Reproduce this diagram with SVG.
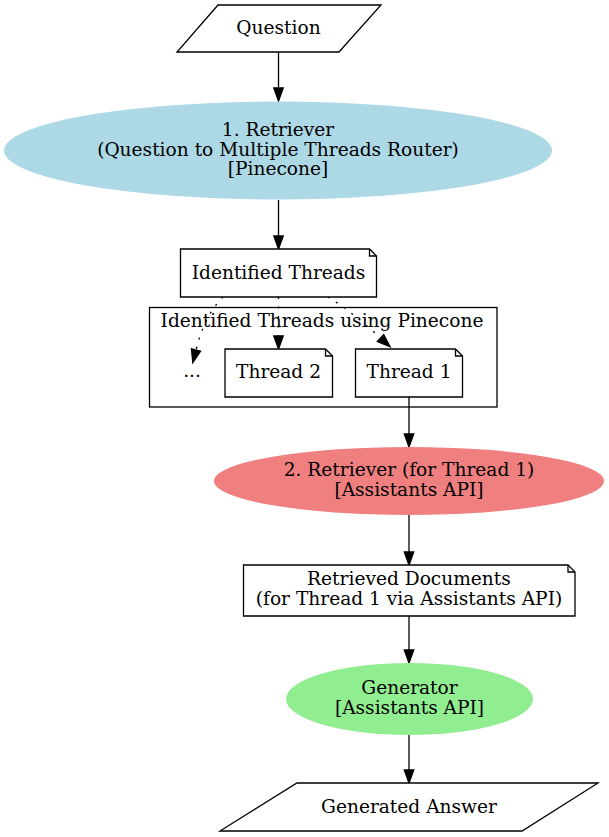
<svg xmlns="http://www.w3.org/2000/svg" width="609" height="837" viewBox="0 0 609 837">
<defs>
<style>
text{font-family:"DejaVu Serif","Liberation Serif",serif;font-size:18.6px;fill:#000;text-anchor:middle}
.shape{stroke:#000;stroke-width:1.3;fill:#fff}
.edge{stroke:#000;stroke-width:1.3;fill:none}
.dot{stroke-dasharray:2,7.5}
</style>
<marker id="arr" markerUnits="userSpaceOnUse" markerWidth="16" markerHeight="12" refX="0" refY="0" viewBox="0 -6 16 12" orient="auto" overflow="visible">
<path d="M0,-4.7 L13,0 L0,4.7 Z" fill="#000" stroke="#000" stroke-width="1.3"/>
</marker>
</defs>
<rect width="609" height="837" fill="#fff"/>
<g id="cluster">
<rect x="149.5" y="307.5" width="347.5" height="99.5" fill="none" stroke="#000" stroke-width="1.3"/>
<text x="322" y="327">Identified Threads using Pinecone</text>
</g>
<g id="edges">
<path class="edge" d="M278.5,52 L278.5,88" marker-end="url(#arr)"/>
<path class="edge" d="M278.5,200 L278.5,236" marker-end="url(#arr)"/>
<path class="edge dot" d="M223,297 C211,309 202,326 196,350" marker-end="url(#arr)"/>
<path class="edge dot" d="M278.5,297 L278.5,336" marker-end="url(#arr)"/>
<path class="edge dot" d="M328,297 C343,306 361,320 380.5,338" marker-end="url(#arr)"/>
<path class="edge" d="M409,397 L409,434" marker-end="url(#arr)"/>
<path class="edge" d="M409,515 L409,552" marker-end="url(#arr)"/>
<path class="edge" d="M409,616 L409,650" marker-end="url(#arr)"/>
<path class="edge" d="M409,735 L409,770" marker-end="url(#arr)"/>
</g>
<g id="question">
<polygon class="shape" points="218,5 381,5 339,52 177,52"/>
<text x="278.5" y="34">Question</text>
</g>
<g id="retriever1">
<ellipse cx="278" cy="150.5" rx="274" ry="49" fill="#add8e6"/>
<text x="278" y="136">1. Retriever</text>
<text x="278" y="155.5">(Question to Multiple Threads Router)</text>
<text x="278" y="175">[Pinecone]</text>
</g>
<g id="identified">
<path class="shape" d="M180.5,249 L369.5,249 L376.5,256 L376.5,297 L180.5,297 Z"/>
<path class="edge" d="M369.5,249 L369.5,256 L376.5,256"/>
<text x="278.5" y="278.5">Identified Threads</text>
</g>
<g id="ellipsis">
<text x="192" y="377">...</text>
</g>
<g id="thread2">
<path class="shape" d="M225,349 L325.5,349 L332.5,356 L332.5,397 L225,397 Z"/>
<path class="edge" d="M325.5,349 L325.5,356 L332.5,356"/>
<text x="278.5" y="377.5">Thread 2</text>
</g>
<g id="thread1">
<path class="shape" d="M355.5,349 L455.5,349 L462.5,356 L462.5,397 L355.5,397 Z"/>
<path class="edge" d="M455.5,349 L455.5,356 L462.5,356"/>
<text x="409" y="377.5">Thread 1</text>
</g>
<g id="retriever2">
<ellipse cx="409" cy="481" rx="195" ry="34" fill="#f08080"/>
<text x="409" y="476">2. Retriever (for Thread 1)</text>
<text x="409" y="495.5">[Assistants API]</text>
</g>
<g id="documents">
<path class="shape" d="M243.5,565 L568,565 L575,572 L575,616 L243.5,616 Z"/>
<path class="edge" d="M568,565 L568,572 L575,572"/>
<text x="409" y="585">Retrieved Documents</text>
<text x="409" y="605">(for Thread 1 via Assistants API)</text>
</g>
<g id="generator">
<ellipse cx="409.5" cy="699" rx="123.5" ry="36" fill="#90ee90"/>
<text x="409.5" y="694">Generator</text>
<text x="409.5" y="714">[Assistants API]</text>
</g>
<g id="answer">
<polygon class="shape" points="297,783 598,783 522,831 220,831"/>
<text x="409" y="813">Generated Answer</text>
</g>
</svg>
